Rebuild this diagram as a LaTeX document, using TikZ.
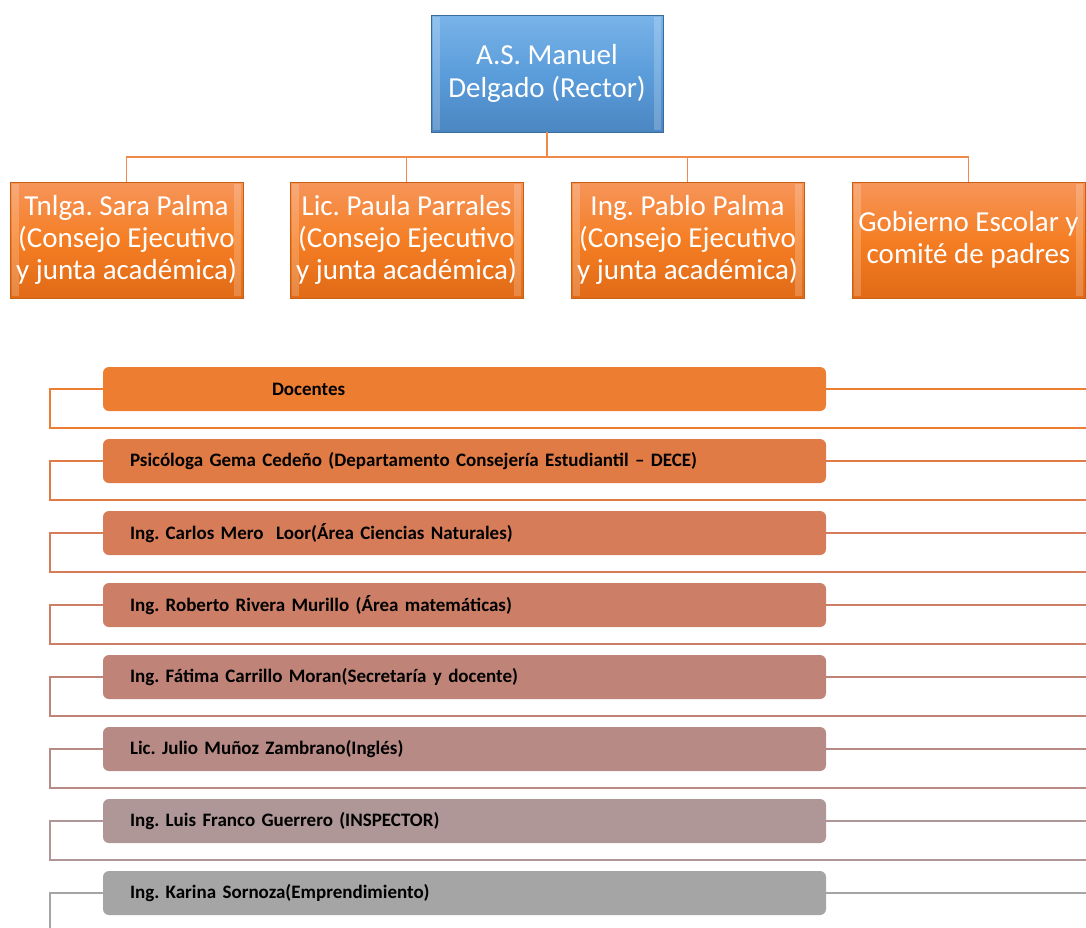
\documentclass[tikz,border=0pt]{standalone}
\usepackage{fontspec}
\setmainfont{Carlito}
\frenchspacing
\usetikzlibrary{calc}
\definecolor{barc1}{HTML}{ED7D31}
\definecolor{barc2}{HTML}{E07B45}
\definecolor{barc3}{HTML}{D67C58}
\definecolor{barc4}{HTML}{CC7F66}
\definecolor{barc5}{HTML}{C08377}
\definecolor{barc6}{HTML}{B78A85}
\definecolor{barc7}{HTML}{AE9796}
\definecolor{barc8}{HTML}{A5A5A5}
\definecolor{bluetop}{HTML}{79B3E8}
\definecolor{bluemid}{HTML}{5B9DDB}
\definecolor{bluebot}{HTML}{4A86C2}
\definecolor{ortop}{HTML}{F6955A}
\definecolor{ormid}{HTML}{F57E24}
\definecolor{orbot}{HTML}{E06A16}
\definecolor{orline}{HTML}{F08A4B}
\tikzset{
  x=1pt, y=-1pt,
  bevelbox/.style={rectangle, inner sep=0pt, align=center, text=white,
     font=\fontsize{29}{32}\selectfont},
  rectorbox/.style={bevelbox, minimum width=232pt, minimum height=117pt,
     top color=bluetop, bottom color=bluebot, middle color=bluemid,
     draw=bluebot!80!black, line width=0.6pt, font=\fontsize{29}{33}\selectfont},
  staffbox/.style={bevelbox, minimum width=233pt, minimum height=116pt,
     top color=ortop, bottom color=orbot, middle color=ormid,
     draw=orbot!90!black, line width=0.6pt},
  topline/.style={draw=orline, line width=1.8pt},
  barbox/.style={rectangle, rounded corners=6pt, minimum height=44pt,
     inner xsep=27pt, inner ysep=0pt, text width=669pt, align=left,
     font=\bfseries\fontsize{19}{22}\selectfont, text=black},
  barline/.style={line width=2pt},
}
\begin{document}
\begin{tikzpicture}
\useasboundingbox (0,0) rectangle (1086,927);
\clip (0,0) rectangle (1086,927);
% top
\node[rectorbox] (rector) at (547,73.5) {A.S. Manuel\\Delgado (Rector)};
\node[staffbox] (s1) at (126.5,240) {Tnlga. Sara Palma\\(Consejo Ejecutivo\\y junta académica)};
\node[staffbox] (s2) at (406.5,240) {Lic. Paula Parrales\\(Consejo Ejecutivo\\y junta académica)};
\node[staffbox] (s3) at (687.5,240) {Ing. Pablo Palma\\(Consejo Ejecutivo\\y junta académica)};
\node[staffbox] (s4) at (968.5,240) {Gobierno Escolar y\\comité de padres};
% bevel highlights
\foreach \n in {rector,s1,s2,s3,s4}{
  \fill[white, opacity=0.2] ($(\n.north west)+(2,2)$) rectangle ($(\n.south west)+(9,-2)$);
  \fill[white, opacity=0.2] ($(\n.north east)+(-9,2)$) rectangle ($(\n.south east)+(-2,-2)$);
}
\coordinate (bus) at (547,157);
\draw[topline] (rector.south) -- (bus);
\foreach \n in {s1,s2,s3,s4}{ \draw[topline] (bus) -| (\n.north); }
% bars
\foreach \k/\txt in {
  1/{\hspace*{142pt}Docentes},
  2/{Psicóloga Gema Cedeño (Departamento Consejería Estudiantil – DECE)},
  3/{Ing. Carlos Mero\ \ Loor(Área Ciencias Naturales)},
  4/{Ing. Roberto Rivera Murillo (Área matemáticas)},
  5/{Ing. Fátima Carrillo Moran(Secretaría y docente)},
  6/{Lic. Julio Muñoz Zambrano(Inglés)},
  7/{Ing. Luis Franco Guerrero (INSPECTOR)},
  8/{Ing. Karina Sornoza(Emprendimiento)}}{
  \pgfmathsetmacro{\yc}{389+72*(\k-1)}
  \pgfmathsetmacro{\yb}{428+72*(\k-1)}
  \node[barbox, fill=barc\k] (d\k) at (464.5,\yc) {\txt};
  \coordinate (e\k) at (1086,\yc);
  \coordinate (c\k) at (50,\yb);
  \coordinate (f\k) at (1086,\yb);
  \draw[barline, draw=barc\k] (d\k.east) -- (e\k);
  \draw[barline, draw=barc\k] (d\k.west) -| (c\k) -- (f\k);
}
\end{tikzpicture}
\end{document}
